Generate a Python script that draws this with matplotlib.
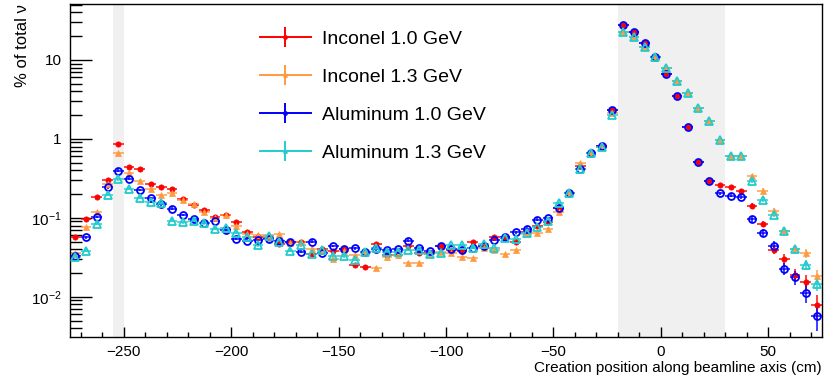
import numpy as np
import matplotlib
matplotlib.use('Agg')
import matplotlib.pyplot as plt
from matplotlib.ticker import MultipleLocator, FixedLocator, FixedFormatter, LogLocator, NullFormatter

plt.rcParams['font.family'] = ['Liberation Sans', 'DejaVu Sans']
plt.rcParams['mathtext.fontset'] = 'custom'
plt.rcParams['mathtext.rm'] = 'Liberation Sans'
plt.rcParams['mathtext.it'] = 'Liberation Sans:italic'

# bins of 5 cm from -275 to 75 cm
bin_lo, bin_hi, bin_w = -275, 75, 5
centers = np.arange(bin_lo + bin_w / 2, bin_hi, bin_w)

inconel_10 = [0.058, 0.097, 0.183, 0.30, 0.865, 0.438, 0.413, 0.272, 0.249, 0.233,
              0.174, 0.145, 0.126, 0.104, 0.110, 0.089, 0.0665, 0.058, 0.055, 0.047,
              0.050, 0.0488, 0.035, 0.040, 0.0385, 0.0401, 0.0252, 0.0238, 0.0469, 0.034,
              0.0337, 0.0434, 0.0357, 0.036, 0.0442, 0.039, 0.038, 0.0492, 0.043, 0.057,
              0.055, 0.0488, 0.066, 0.080, 0.089, 0.132, 0.209, 0.46, 0.67, 0.81,
              2.33, 27.7, 22.8, 16.6, 11.0, 6.65, 3.50, 1.43, 0.516, 0.297,
              0.262, 0.245, 0.222, 0.143, 0.084, 0.0394, 0.030, 0.019, 0.0156, 0.0079]
inconel_13 = [0.036, 0.076, 0.119, 0.267, 0.66, 0.375, 0.297, 0.233, 0.195, 0.209,
              0.169, 0.149, 0.119, 0.099, 0.110, 0.079, 0.062, 0.061, 0.061, 0.062,
              0.048, 0.0488, 0.0409, 0.0385, 0.030, 0.0382, 0.034, 0.036, 0.0235, 0.0315,
              0.034, 0.0272, 0.0272, 0.035, 0.037, 0.0357, 0.0315, 0.0309, 0.042, 0.0393,
              0.0347, 0.0393, 0.063, 0.064, 0.0726, 0.120, 0.209, 0.496, 0.67, 0.80,
              2.1, 22.8, 19.4, 14.5, 11.0, 7.85, 5.47, 3.78, 2.45, 1.66,
              0.97, 0.61, 0.61, 0.34, 0.22, 0.123, 0.0684, 0.0402, 0.0357, 0.0184]
alu_10 = [0.033, 0.057, 0.104, 0.245, 0.397, 0.315, 0.226, 0.176, 0.149, 0.131,
          0.109, 0.098, 0.087, 0.0917, 0.070, 0.054, 0.0516, 0.0527, 0.0537, 0.0516,
          0.050, 0.0375, 0.050, 0.0354, 0.0442, 0.0401, 0.041, 0.0375, 0.040, 0.0393,
          0.0401, 0.0516, 0.0421, 0.0382, 0.0442, 0.0401, 0.0393, 0.042, 0.0434, 0.0527,
          0.057, 0.066, 0.0733, 0.0944, 0.100, 0.132, 0.209, 0.42, 0.67, 0.81,
          2.33, 27.7, 22.8, 16.6, 11.0, 6.65, 3.50, 1.43, 0.516, 0.297,
          0.205, 0.191, 0.183, 0.097, 0.0645, 0.0442, 0.0228, 0.0177, 0.0113, 0.0057]
alu_13 = [0.032, 0.0385, 0.084, 0.197, 0.309, 0.233, 0.181, 0.161, 0.152, 0.0925,
          0.088, 0.0925, 0.0856, 0.0726, 0.075, 0.065, 0.057, 0.045, 0.0597, 0.050,
          0.0385, 0.0451, 0.035, 0.0393, 0.0327, 0.0327, 0.0294, 0.0371, 0.0413, 0.0375,
          0.0375, 0.0393, 0.0393, 0.035, 0.0357, 0.0451, 0.0455, 0.0421, 0.0469, 0.0413,
          0.0553, 0.0537, 0.064, 0.0777, 0.090, 0.153, 0.209, 0.417, 0.66, 0.80,
          2.01, 22.8, 19.4, 14.5, 11.0, 7.85, 5.47, 3.78, 2.45, 1.66,
          0.97, 0.61, 0.61, 0.297, 0.169, 0.110, 0.0684, 0.0402, 0.0254, 0.0146]

# relative stat. errors: small everywhere, larger in the last 8 bins
rel_err_base = 0.04
tail_err = {
    'red':    [0.06, 0.08, 0.10, 0.12, 0.15, 0.20, 0.22, 0.35],
    'orange': [0.05, 0.06, 0.07, 0.08, 0.10, 0.12, 0.13, 0.18],
    'blue':   [0.06, 0.10, 0.12, 0.15, 0.18, 0.20, 0.25, 0.35],
    'cyan':   [0.05, 0.06, 0.07, 0.08, 0.10, 0.12, 0.14, 0.18],
}

labels = ['Inconel 1.0 GeV', 'Inconel 1.3 GeV', 'Aluminum 1.0 GeV', 'Aluminum 1.3 GeV']
grey_bands = [(-255, -250), (-20, 30)]

fig = plt.figure(figsize=(8.3, 3.75), dpi=100)
ax = fig.add_axes([0.0843, 0.1013, 0.9060, 0.8880])

for a, b in grey_bands:
    ax.axvspan(a, b, color='#f0f0f0', lw=0, zorder=0)

series = [
    (inconel_10, 'red', '#ff0000', dict(marker='o', ms=3.8, mfc='#ff0000', mec='#ff0000', mew=0.5)),
    (inconel_13, 'orange', '#ff9a40', dict(marker='^', ms=3.8, mfc='#ff9a40', mec='#ff9a40', mew=0.5)),
    (alu_10, 'blue', '#0000ff', dict(marker='o', ms=5, mfc='none', mec='#0000ff', mew=1.3)),
    (alu_13, 'cyan', '#22cccc', dict(marker='^', ms=5.5, mfc='none', mec='#22cccc', mew=1.3)),
]

handles = []
for (vals, key, col, mk), lab in zip(series, labels):
    y = np.array(vals)
    rel = np.full(len(y), rel_err_base)
    rel[-len(tail_err[key]):] = tail_err[key]
    ax.errorbar(centers, y, xerr=bin_w / 2, yerr=y * rel, fmt='none',
                ecolor=col, elinewidth=1.4, alpha=0.75, capsize=0, zorder=2)
    ax.plot(centers, y, ls='none', zorder=3, **mk)
    # legend entry: line across the handle with a small marker and a vertical bar
    lh = ax.errorbar([], [], yerr=[], color=col, ls='-', lw=1.4,
                     elinewidth=1.4, marker=mk['marker'], ms=2.5,
                     mfc=mk['mfc'], mec=col, mew=1.0, capsize=0)
    handles.append(lh)

ax.set_yscale('log')
ax.set_xlim(bin_lo, bin_hi)
ax.set_ylim(0.0031, 51)

ax.xaxis.set_major_locator(MultipleLocator(50))
ax.xaxis.set_minor_locator(MultipleLocator(10))
ax.yaxis.set_major_locator(FixedLocator([0.01, 0.1, 1, 10]))
ax.yaxis.set_major_formatter(FixedFormatter(['$10^{-2}$', '$10^{-1}$', '1', '10']))
ax.yaxis.set_minor_locator(LogLocator(base=10, subs=np.arange(2, 10)))
ax.yaxis.set_minor_formatter(NullFormatter())

ax.tick_params(axis='both', which='both', direction='in', top=False, right=False,
               labelsize=11, width=1, colors='black')
ax.tick_params(axis='x', which='major', length=7, pad=6)
ax.tick_params(axis='x', which='minor', length=3.5)
ax.tick_params(axis='y', which='major', length=16, pad=6)
ax.tick_params(axis='y', which='minor', length=8.5)
for sp in ax.spines.values():
    sp.set_linewidth(1)

ax.set_xlabel('Creation position along beamline axis (cm)', fontsize=11, loc='right', labelpad=1)
ax.set_ylabel('% of total ν', fontsize=12, loc='top', labelpad=1)

leg = ax.legend(handles, labels, loc='upper left', bbox_to_anchor=(0.253, 0.922),
                frameon=False, fontsize=14, handlelength=2.6, handletextpad=0.6,
                labelspacing=1.05, borderpad=0, borderaxespad=0)

fig.savefig('out.png', dpi=100)
